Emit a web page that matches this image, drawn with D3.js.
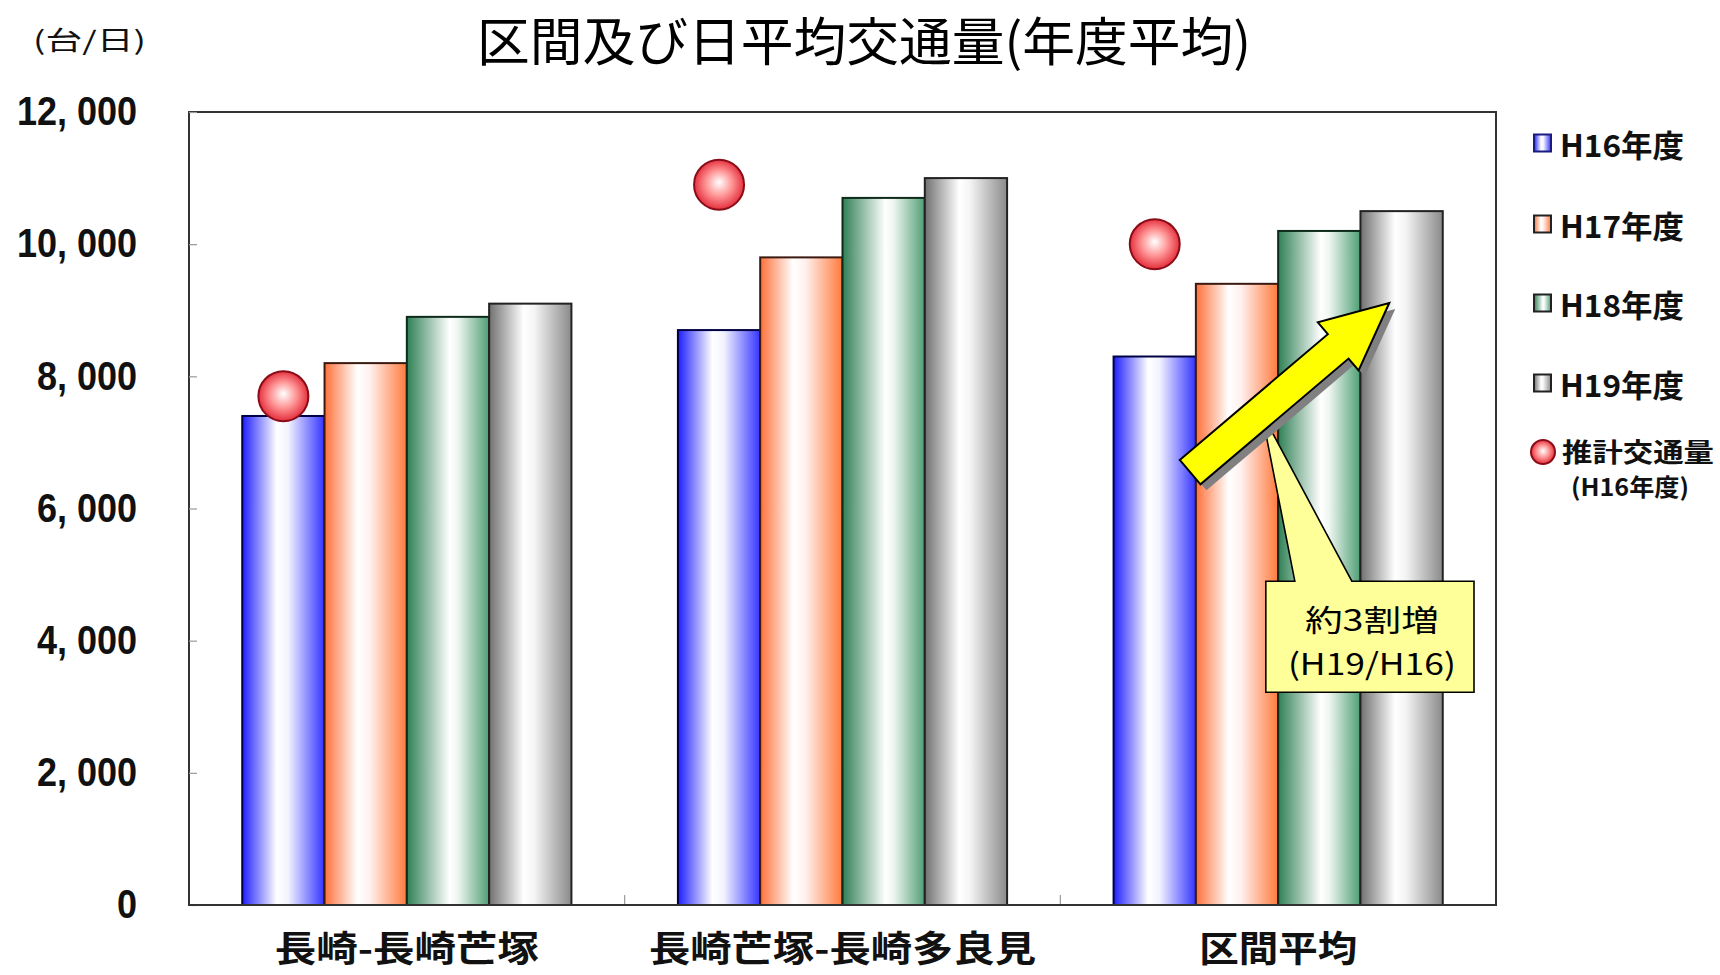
<!DOCTYPE html>
<html><head><meta charset="utf-8">
<script src="https://cdn.jsdelivr.net/npm/d3@7"></script>
<style>
html,body{margin:0;padding:0;background:#fff;}
svg{display:block;}
</style></head>
<body>
<svg id="chart" width="1720" height="975"></svg>
<script>
// ---- data ----
const categories = ["長崎-長崎芒塚", "長崎芒塚-長崎多良見", "区間平均"];
const seriesNames = ["H16年度", "H17年度", "H18年度", "H19年度"];
const h16 = [7400, 8700, 8300];
const h17 = [8200, 9800, 9400];
const h18 = [8900, 10700, 10200];
const h19 = [9100, 11000, 10500];
const estimated = [7700, 10900, 10000];
const yTicks = [0, 2000, 4000, 6000, 8000, 10000, 12000];
const estimateLabel = ["推計交通量", "(H16年度)"];
const titleText = "区間及び日平均交通量(年度平均)";
const unitText = "(台/日)";
const calloutLines = ["約3割増", "(H19/H16)"];

const seriesValues = [h16, h17, h18, h19];

// ---- layout ----
const svg = d3.select("#chart");
const L = 189, R = 1496, T = 112, B = 905;
const CJK = "'Noto Sans CJK JP','Noto Sans CJK SC',sans-serif";

const x = d3.scaleBand().domain(categories).range([L, R]).padding(0);
const xs = d3.scaleBand().domain(seriesNames).range([0, x.bandwidth()]).paddingInner(0).paddingOuter(0.647);
const y = d3.scaleLinear().domain([0, 12000]).range([B, T]);

// ---- gradients ----
const defs = svg.append("defs");
const grads = [
  {id: "g0", stops: [[0, "#1e1eff"], [0.42, "#ffffff"], [0.56, "#f2f2ff"], [1, "#3434ff"]]},
  {id: "g1", stops: [[0, "#ff7038"], [0.40, "#ffffff"], [0.55, "#fff0ee"], [1, "#ff7a3c"]]},
  {id: "g2", stops: [[0, "#2f8055"], [0.52, "#ffffff"], [0.62, "#eef6f1"], [1, "#4f9e74"]]},
  {id: "g3", stops: [[0, "#707070"], [0.42, "#ffffff"], [0.55, "#f4f4f4"], [1, "#8a8a8a"]]}
];
grads.forEach(g => {
  const lg = defs.append("linearGradient").attr("id", g.id).attr("x1", 0).attr("x2", 1).attr("y1", 0).attr("y2", 0);
  g.stops.forEach(s => lg.append("stop").attr("offset", s[0]).attr("stop-color", s[1]));
});
const strokeCols = ["#000044", "#3a1a10", "#0e2a1a", "#222"];
const rg = defs.append("radialGradient").attr("id", "ball").attr("cx", 0.5).attr("cy", 0.5).attr("r", 0.55).attr("fx", 0.5).attr("fy", 0.45);
[[0, "#ffffff"], [0.45, "#ff9a9a"], [1, "#e01c2c"]].forEach(s => rg.append("stop").attr("offset", s[0]).attr("stop-color", s[1]));

// ---- frame ----
svg.append("rect").attr("x", L).attr("y", T).attr("width", R - L).attr("height", B - T)
  .attr("fill", "#fff").attr("stroke", "#333").attr("stroke-width", 2);

// ---- y axis ----
const yAxis = d3.axisLeft(y).tickValues(yTicks).tickSizeInner(-8).tickSizeOuter(0).tickPadding(52)
  .tickFormat(v => d3.format(",")(v).replace(",", ", "));
const ya = svg.append("g").attr("transform", `translate(${L},0)`).call(yAxis);
ya.select(".domain").remove();
ya.selectAll(".tick line").attr("stroke", "#999").attr("stroke-width", 1.2);
ya.selectAll(".tick text").attr("font-family", "'Liberation Sans',Arial,sans-serif").attr("font-weight", "bold")
  .attr("font-size", 40).attr("fill", "#111")
  .each(function () { const w = this.getComputedTextLength(); d3.select(this).attr("textLength", w * 0.9).attr("lengthAdjust", "spacingAndGlyphs"); });

// group boundary ticks on x axis
svg.append("g").selectAll("line").data(categories.slice(1)).join("line")
  .attr("x1", d => x(d)).attr("x2", d => x(d)).attr("y1", B).attr("y2", B - 10)
  .attr("stroke", "#999").attr("stroke-width", 1.2);

// ---- bars ----
const groups = svg.append("g").selectAll("g").data(categories).join("g")
  .attr("transform", d => `translate(${x(d)},0)`);
seriesNames.forEach((s, si) => {
  groups.append("rect")
    .attr("x", xs(s)).attr("width", xs.bandwidth())
    .attr("y", (d, i) => y(seriesValues[si][i])).attr("height", (d, i) => B - y(seriesValues[si][i]))
    .attr("fill", `url(#g${si})`).attr("stroke", strokeCols[si]).attr("stroke-width", 2);
});

// ---- estimated circles ----
svg.append("g").selectAll("circle").data(estimated).join("circle")
  .attr("cx", (d, i) => x(categories[i]) + xs(seriesNames[0]) + xs.bandwidth() / 2)
  .attr("cy", d => y(d)).attr("r", 25)
  .attr("fill", "url(#ball)").attr("stroke", "#8a0c18").attr("stroke-width", 2);

// frame redraw on top (bottom axis line)
svg.append("line").attr("x1", L).attr("x2", R).attr("y1", B).attr("y2", B).attr("stroke", "#333").attr("stroke-width", 2);

// ---- x labels ----
const xLabW = [264, 387, 158];
svg.append("g").selectAll("text").data(categories).join("text")
  .attr("x", d => x(d) + x.bandwidth() / 2).attr("y", 946)
  .attr("text-anchor", "middle").attr("dominant-baseline", "central")
  .attr("font-family", CJK).attr("font-weight", "bold").attr("font-size", 36).attr("fill", "#111")
  .attr("textLength", (d, i) => xLabW[i]).attr("lengthAdjust", "spacingAndGlyphs")
  .text(d => d);

// ---- title & unit ----
svg.append("text").attr("x", 864).attr("y", 38).attr("text-anchor", "middle").attr("dominant-baseline", "central")
  .attr("font-family", CJK).attr("font-size", 52).attr("fill", "#000")
  .attr("textLength", 774).attr("lengthAdjust", "spacingAndGlyphs").text(titleText);
svg.append("text").attr("x", 33).attr("y", 38).attr("dominant-baseline", "central")
  .attr("font-family", CJK).attr("font-size", 26).attr("fill", "#111")
  .attr("textLength", 113).attr("lengthAdjust", "spacingAndGlyphs").text(unitText);

// ---- legend ----
const legY = [143, 224, 303, 383];
const leg = svg.append("g");
seriesNames.forEach((s, si) => {
  leg.append("rect").attr("x", 1534).attr("y", legY[si] - 8.5).attr("width", 17).attr("height", 17)
    .attr("fill", `url(#g${si})`).attr("stroke", si === 0 ? "#1a1a80" : "#222").attr("stroke-width", 2);
  leg.append("text").attr("x", 1560).attr("y", legY[si]).attr("dominant-baseline", "central")
    .attr("font-family", CJK).attr("font-weight", "bold").attr("font-size", 31).attr("fill", "#111")
    .attr("textLength", 124).attr("lengthAdjust", "spacingAndGlyphs").text(s);
});
leg.append("circle").attr("cx", 1543).attr("cy", 452).attr("r", 12)
  .attr("fill", "url(#ball)").attr("stroke", "#8a0c18").attr("stroke-width", 2);
leg.append("text").attr("x", 1562).attr("y", 450).attr("dominant-baseline", "central")
  .attr("font-family", CJK).attr("font-weight", "bold").attr("font-size", 26).attr("fill", "#111")
  .attr("textLength", 152).attr("lengthAdjust", "spacingAndGlyphs").text(estimateLabel[0]);
leg.append("text").attr("x", 1571).attr("y", 485).attr("dominant-baseline", "central")
  .attr("font-family", CJK).attr("font-weight", "bold").attr("font-size", 24).attr("fill", "#111")
  .attr("textLength", 118).attr("lengthAdjust", "spacingAndGlyphs").text(estimateLabel[1]);

// ---- callout ----
const g3 = categories[2];
const bx0 = x(g3) + xs(seriesNames[1]) + xs.bandwidth() * 0.85, bx1 = R - 22;
const by0 = y(4900), by1 = y(3220);
const ptip = [x(g3) + xs(seriesNames[1]) + xs.bandwidth() * 0.80, y(7450)];
svg.append("path")
  .attr("d", `M${bx0},${by0} L${bx0 + 29},${by0} L${ptip[0]},${ptip[1]} L${bx0 + 86},${by0} L${bx1},${by0} L${bx1},${by1} L${bx0},${by1} Z`)
  .attr("fill", "#ffff99").attr("stroke", "#000").attr("stroke-width", 1.6).attr("stroke-linejoin", "miter");
const bcx = (bx0 + bx1) / 2;
svg.append("text").attr("x", bcx + 2).attr("y", (by0 + by1) / 2 - 19).attr("text-anchor", "middle").attr("dominant-baseline", "central")
  .attr("font-family", CJK).attr("font-size", 30).attr("fill", "#000")
  .attr("textLength", 134).attr("lengthAdjust", "spacingAndGlyphs").text(calloutLines[0]);
svg.append("text").attr("x", bcx + 2).attr("y", (by0 + by1) / 2 + 25).attr("text-anchor", "middle").attr("dominant-baseline", "central")
  .attr("font-family", CJK).attr("font-size", 30).attr("fill", "#000")
  .attr("textLength", 168).attr("lengthAdjust", "spacingAndGlyphs").text(calloutLines[1]);

// ---- arrow ----
const tail = [x(g3) + xs(seriesNames[0]) + xs.bandwidth() * 0.93, y(6550)];
const tip = [x(g3) + xs(seriesNames[3]) + xs.bandwidth() * 0.35, y(9110)];
function arrowPts(a, b) {
  const dx = b[0] - a[0], dy = b[1] - a[1], len = Math.hypot(dx, dy);
  const u = [dx / len, dy / len], n = [-u[1], u[0]];
  const sw = 16, hw = 31.5, hl = 67;
  const base = [b[0] - hl * u[0], b[1] - hl * u[1]];
  const p = (c, k) => [c[0] + k * n[0], c[1] + k * n[1]];
  return [p(a, -sw), p(base, -sw), p(base, -hw), b, p(base, hw), p(base, sw), p(a, sw)];
}
const pts = arrowPts(tail, tip);
svg.append("polygon").attr("points", pts.map(p => [p[0] + 6, p[1] + 6].join(",")).join(" ")).attr("fill", "#808080");
svg.append("polygon").attr("points", pts.map(p => p.join(",")).join(" "))
  .attr("fill", "#ffff00").attr("stroke", "#000").attr("stroke-width", 2).attr("stroke-linejoin", "miter");
</script>
</body></html>
